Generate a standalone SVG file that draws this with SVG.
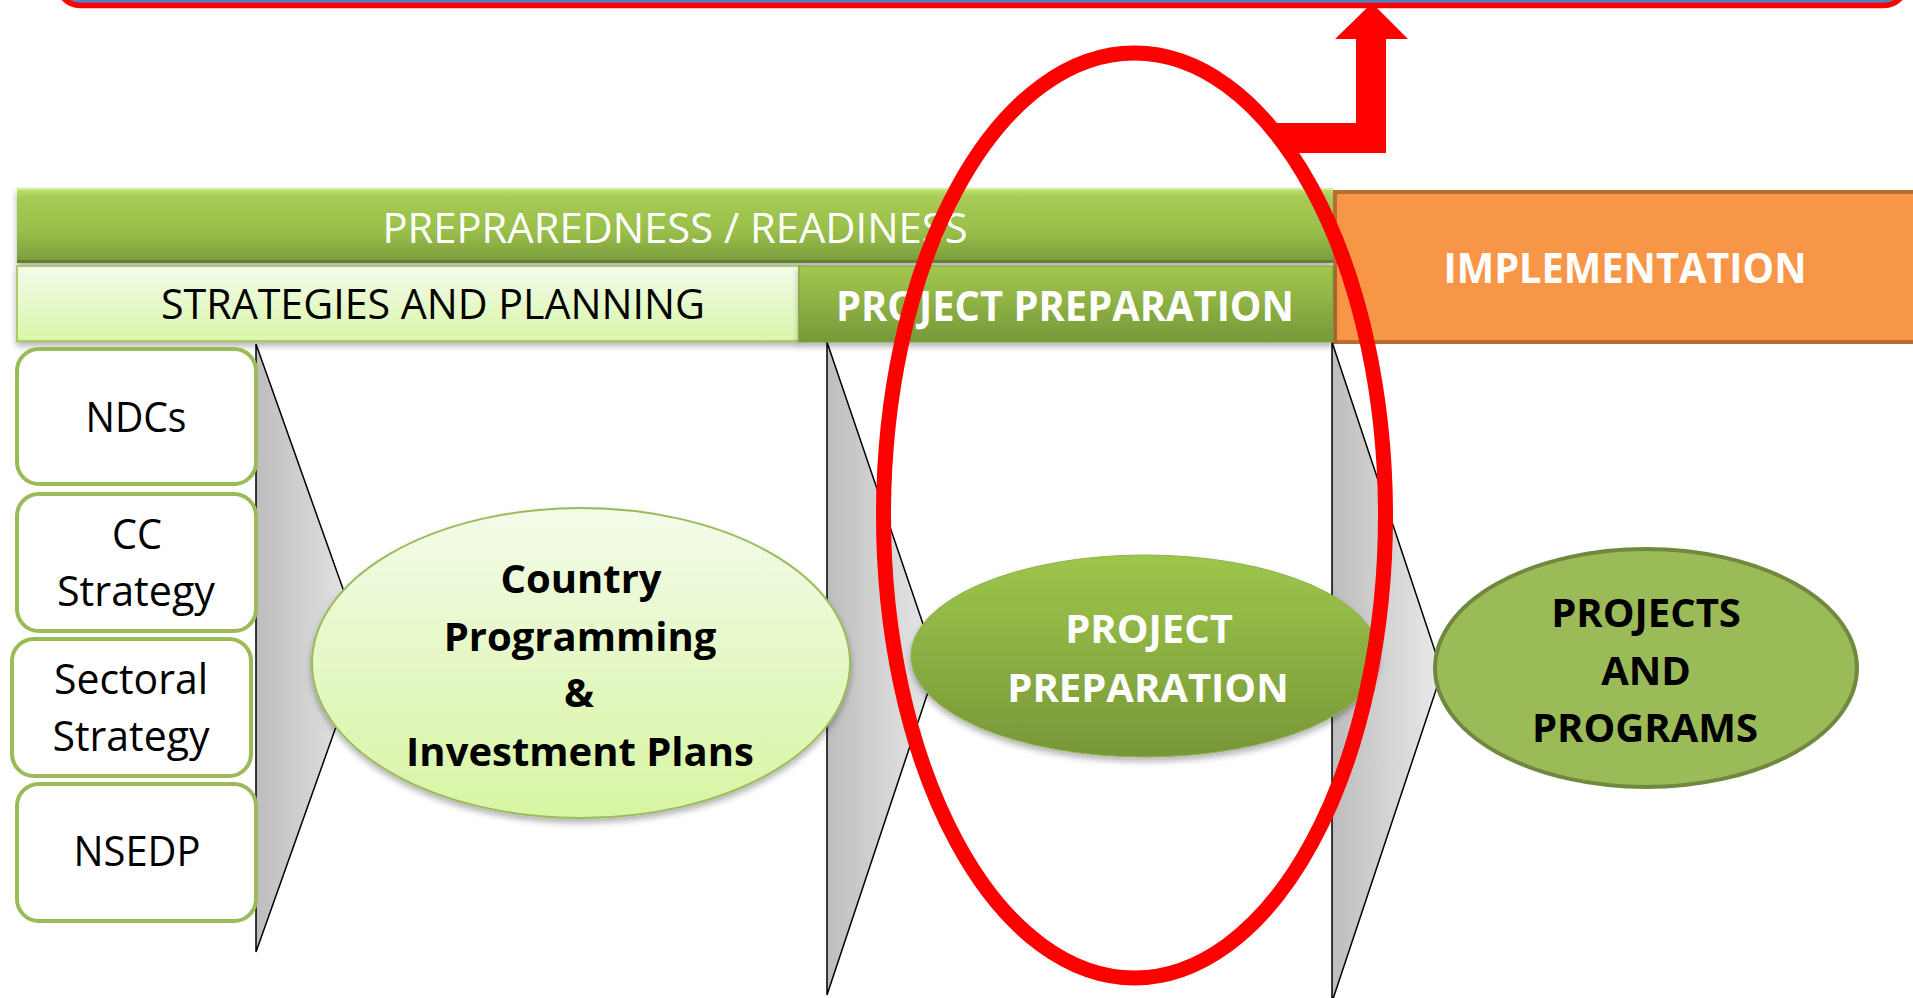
<svg xmlns="http://www.w3.org/2000/svg" width="1913" height="998" viewBox="0 0 1913 998">
<defs>
<linearGradient id="gTop" x1="0" y1="0" x2="0" y2="1">
<stop offset="0" stop-color="#C3E27A"/><stop offset="0.12" stop-color="#A7CC54"/><stop offset="0.6" stop-color="#98BD4A"/><stop offset="1" stop-color="#7A9A3C"/>
</linearGradient>
<linearGradient id="gLight" x1="0" y1="0" x2="0" y2="1">
<stop offset="0" stop-color="#F3FBEA"/><stop offset="1" stop-color="#DAF6AA"/>
</linearGradient>
<linearGradient id="gDark" x1="0" y1="0" x2="0" y2="1">
<stop offset="0" stop-color="#A2C84F"/><stop offset="1" stop-color="#789839"/>
</linearGradient>
<linearGradient id="gChev" x1="0" y1="0" x2="1" y2="0">
<stop offset="0" stop-color="#BDBDBD"/><stop offset="1" stop-color="#EAEAEA"/>
</linearGradient>
<linearGradient id="gEll1" x1="0" y1="0" x2="0" y2="1">
<stop offset="0" stop-color="#F3FBE9"/><stop offset="1" stop-color="#D7F5A2"/>
</linearGradient>
<linearGradient id="gEll2" x1="0" y1="0" x2="0" y2="1">
<stop offset="0" stop-color="#9EC64B"/><stop offset="1" stop-color="#779738"/>
</linearGradient>
<filter id="sh" x="-10%" y="-10%" width="120%" height="130%">
<feDropShadow dx="0" dy="4" stdDeviation="3" flood-color="#000" flood-opacity="0.3"/>
</filter>
<style>
text{font-family:"Open Sans","Liberation Sans",sans-serif;text-anchor:middle}
.w{fill:#fff}
.k{fill:#000}
.b{font-weight:bold}
.f40{font-size:40px}
.f42{font-size:42px}
.box{fill:#fff;stroke:#9BBB59;stroke-width:4}
.chev{fill:url(#gChev);stroke:#000;stroke-width:1.5}
</style>
</defs>

<g id="top-banner">
<rect x="58" y="-60" width="1848" height="65.5" rx="22" fill="#4F81BD" stroke="#FF0000" stroke-width="5.5"/>
</g>

<g id="preparedness-bar">
<rect x="17" y="188" width="1316" height="75" fill="url(#gTop)" filter="url(#sh)"/>
<rect x="17" y="188" width="1316" height="2" fill="#D6EE93"/>
<rect x="17" y="260" width="1316" height="3" fill="#63802F"/>
<text class="w f42" x="675" y="243" textLength="585" lengthAdjust="spacingAndGlyphs">PREPRAREDNESS / READINESS</text>
</g>

<g id="implementation-bar">
<rect x="1335" y="192" width="590" height="150" fill="#F79646" stroke="#B66D31" stroke-width="4"/>
<text class="w b f42" x="1625" y="283" textLength="363" lengthAdjust="spacingAndGlyphs">IMPLEMENTATION</text>
</g>

<g id="connectors">
<polygon class="chev" points="256,344 364,648 256,952"/>
<polygon class="chev" points="827,342 937,665 827,995"/>
<polygon class="chev" points="1332,342 1442,672 1332,1002"/>
</g>

<g id="strategies-bar">
<rect x="17" y="266" width="782" height="75" fill="url(#gLight)" stroke="#A9CC68" stroke-width="2" filter="url(#sh)"/>
<text class="k f42" x="433" y="319" textLength="544" lengthAdjust="spacingAndGlyphs">STRATEGIES AND PLANNING</text>
</g>

<g id="project-preparation-bar">
<rect x="799" y="266" width="534" height="76" fill="url(#gDark)" stroke="#7F9E42" stroke-width="1" filter="url(#sh)"/>
<text class="w b f42" x="1065" y="321" textLength="458" lengthAdjust="spacingAndGlyphs">PROJECT PREPARATION</text>
</g>

<g id="ndcs">
<rect class="box" x="17" y="349" width="239" height="135" rx="22"/>
<text class="k f42" x="136" y="432" textLength="101" lengthAdjust="spacingAndGlyphs">NDCs</text>
</g>
<g id="cc-strategy">
<rect class="box" x="17" y="494" width="239" height="137" rx="22"/>
<text class="k f42" x="137" y="549" textLength="50" lengthAdjust="spacingAndGlyphs">CC</text>
<text class="k f42" x="136" y="606" textLength="158" lengthAdjust="spacingAndGlyphs">Strategy</text>
</g>
<g id="sectoral-strategy">
<rect class="box" x="12" y="639" width="239" height="137" rx="22"/>
<text class="k f42" x="131" y="694" textLength="154" lengthAdjust="spacingAndGlyphs">Sectoral</text>
<text class="k f42" x="131" y="751" textLength="157" lengthAdjust="spacingAndGlyphs">Strategy</text>
</g>
<g id="nsedp">
<rect class="box" x="17" y="784" width="239" height="137" rx="22"/>
<text class="k f42" x="137" y="866" textLength="127" lengthAdjust="spacingAndGlyphs">NSEDP</text>
</g>

<g id="country-programming">
<ellipse cx="581" cy="663" rx="269" ry="155" fill="url(#gEll1)" stroke="#9BBB59" stroke-width="2" filter="url(#sh)"/>
<text class="k b f40" x="581" y="593">Country</text>
<text class="k b f40" x="580" y="651">Programming</text>
<text class="k b f40" x="579" y="707">&amp;</text>
<text class="k b f40" x="580" y="766">Investment Plans</text>
</g>

<g id="project-preparation">
<ellipse cx="1145" cy="656" rx="234" ry="101" fill="url(#gEll2)" stroke="#8DB04A" stroke-width="1" filter="url(#sh)"/>
<text class="w b f40" x="1149" y="643">PROJECT</text>
<text class="w b f40" x="1148" y="702">PREPARATION</text>
</g>

<g id="projects-and-programs">
<ellipse cx="1646" cy="668" rx="211" ry="119" fill="#9BBB59" stroke="#71893F" stroke-width="4"/>
<text class="k b f40" x="1646" y="627">PROJECTS</text>
<text class="k b f40" x="1646" y="685">AND</text>
<text class="k b f40" x="1645" y="742">PROGRAMS</text>
</g>

<g id="highlight">
<ellipse cx="1134.5" cy="515.5" rx="251" ry="462.5" fill="none" stroke="#FF0000" stroke-width="15"/>
</g>

<g id="arrow">
<polygon points="1266,123 1356,123 1356,39 1335,39 1372,3 1408,39 1386,39 1386,153 1288,153" fill="#FF0000"/>
</g>
</svg>
